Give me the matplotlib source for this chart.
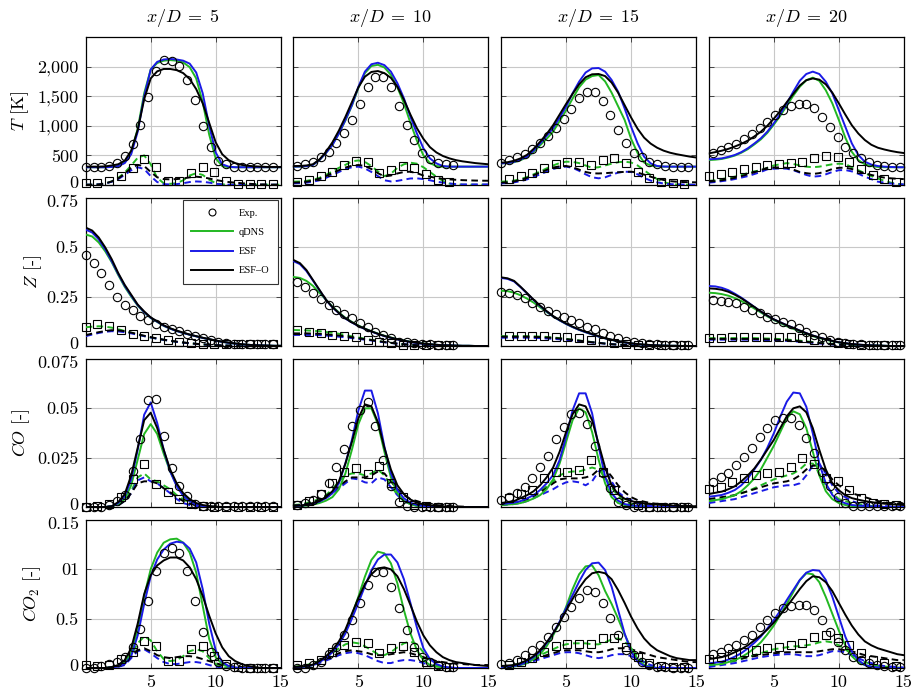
import matplotlib.pyplot as plt
from matplotlib.lines import Line2D
from matplotlib.transforms import ScaledTranslation

plt.rcParams['font.family'] = 'serif'
plt.rcParams['font.serif'] = ['cmr10']
plt.rcParams['mathtext.fontset'] = 'cm'
plt.rcParams['axes.unicode_minus'] = False
plt.rcParams['axes.formatter.use_mathtext'] = True

# radial positions r/D of the simulated profiles
r_sim = [0.0, 0.5, 1.0, 1.5, 2.0, 2.5, 3.0, 3.5, 4.0, 4.5,
         5.0, 5.5, 6.0, 6.5, 7.0, 7.5, 8.0, 8.5, 9.0, 9.5,
         10.0, 10.5, 11.0, 11.5, 12.0, 12.5, 13.0, 13.5, 14.0, 14.5, 15.0]

# radial positions of the measurements (mean: circles, rms: squares)
r_exp_5 = [0.0, 0.6, 1.2, 1.8, 2.4, 3.0, 3.6, 4.2, 4.8, 5.4, 6.0, 6.6, 7.2,
           7.8, 8.4, 9.0, 9.6, 10.2, 10.8, 11.4, 12.0, 12.6, 13.2, 13.8, 14.4]
r_exp_10 = [0.3, 0.9, 1.5, 2.1, 2.7, 3.3, 3.9, 4.5, 5.1, 5.7, 6.3, 6.9, 7.5,
            8.1, 8.7, 9.3, 9.9, 10.5, 11.1, 11.7, 12.3]
r_exp_15 = [0.0, 0.6, 1.2, 1.8, 2.4, 3.0, 3.6, 4.2, 4.8, 5.4, 6.0, 6.6, 7.2,
            7.8, 8.4, 9.0, 9.6, 10.2, 10.8, 11.4, 12.0, 12.6, 13.2, 13.8, 14.4]
r_exp_20 = [0.3, 0.9, 1.5, 2.1, 2.7, 3.3, 3.9, 4.5, 5.1, 5.7, 6.3, 6.9, 7.5,
            8.1, 8.7, 9.3, 9.9, 10.5, 11.1, 11.7, 12.3, 12.9, 13.5, 14.1, 14.7]
r_rms_5 = [0.0, 0.9, 1.8, 2.7, 3.6, 4.5, 5.4, 6.3, 7.2, 8.1, 9.0, 9.9, 10.8,
           11.7, 12.6, 13.5, 14.4]
r_rms_10 = [0.3, 1.2, 2.1, 3.0, 3.9, 4.8, 5.7, 6.6, 7.5, 8.4, 9.3, 10.2, 11.1, 12.0]
r_rms_15 = [0.6, 1.5, 2.4, 3.3, 4.2, 5.1, 6.0, 6.9, 7.8, 8.7, 9.6, 10.5, 11.4,
            12.3, 13.2, 14.1]
r_rms_20 = [0.0, 0.9, 1.8, 2.7, 3.6, 4.5, 5.4, 6.3, 7.2, 8.1, 9.0, 9.9, 10.8,
            11.7, 12.6, 13.5, 14.4]

# ---- temperature [K] ----
T_5_qdns = [300, 300, 300, 300, 305, 320, 380, 560, 950, 1550,
            1950, 2060, 2100, 2110, 2100, 2070, 1990, 1800, 1400, 850,
            450, 320, 300, 300, 300, 300, 300, 300, 300, 300, 300]
T_5_esf = [300, 300, 300, 300, 305, 320, 370, 520, 900, 1500,
           1950, 2080, 2120, 2130, 2120, 2100, 2050, 1900, 1550, 1000,
           550, 350, 310, 300, 300, 300, 300, 300, 300, 300, 300]
T_5_esfo = [310, 310, 310, 315, 330, 350, 410, 580, 930, 1450,
            1800, 1920, 1960, 1960, 1940, 1890, 1790, 1620, 1380, 1050,
            720, 520, 420, 370, 340, 325, 315, 310, 305, 305, 305]
T_5_qdns_rms = [5, 5, 10, 25, 60, 120, 210, 330, 460, 500,
                350, 120, 30, 20, 30, 80, 160, 200, 170, 90,
                30, 10, 5, 5, 5, 5, 5, 5, 5, 5, 5]
T_5_esf_rms = [5, 5, 10, 25, 55, 100, 170, 250, 300, 270,
               150, 50, 15, 10, 15, 30, 50, 60, 55, 40,
               20, 10, 5, 5, 5, 5, 5, 5, 5, 5, 5]
T_5_esfo_rms = [5, 5, 10, 25, 60, 110, 190, 290, 340, 320,
                220, 130, 100, 95, 100, 110, 130, 140, 130, 110,
                85, 65, 50, 40, 30, 22, 15, 10, 8, 5, 5]
T_5_exp = [310, 310, 310, 327, 378, 491, 694, 1016, 1484, 1919, 2105, 2088, 2003,
           1777, 1439, 999, 649, 406, 350, 310, 310, 310, 310, 310, 310]
T_5_exp_rms = [28, 40, 68, 158, 282, 435, 310, 68, 68, 209, 310, 226, 68, 17, 17, 10, 10]

T_10_qdns = [310, 312, 318, 340, 420, 540, 680, 870, 1090, 1340,
             1640, 1890, 2010, 2030, 1985, 1860, 1650, 1380, 1050, 750,
             500, 370, 320, 310, 310, 310, 310, 310, 310, 310, 310]
T_10_esf = [310, 312, 318, 340, 420, 540, 675, 870, 1100, 1350,
            1660, 1915, 2040, 2065, 2025, 1915, 1720, 1465, 1155, 870,
            620, 450, 365, 320, 310, 310, 310, 310, 310, 310, 310]
T_10_esfo = [320, 322, 330, 350, 430, 560, 720, 920, 1150, 1400,
             1650, 1830, 1910, 1925, 1890, 1810, 1660, 1440, 1190, 960,
             780, 640, 550, 490, 450, 420, 400, 385, 370, 360, 350]
T_10_qdns_rms = [56, 60, 70, 90, 120, 170, 230, 290, 340, 400,
                 415, 390, 320, 230, 150, 190, 290, 350, 377, 360,
                 300, 220, 140, 70, 25, 10, 5, 5, 5, 5, 5]
T_10_esf_rms = [28, 32, 40, 55, 80, 120, 170, 220, 270, 300,
                310, 280, 220, 150, 80, 60, 70, 90, 110, 112,
                100, 80, 56, 40, 25, 15, 10, 10, 10, 10, 10]
T_10_esfo_rms = [40, 45, 55, 75, 105, 150, 200, 250, 295, 325,
                 338, 320, 270, 200, 145, 160, 195, 220, 225, 200,
                 160, 140, 120, 105, 95, 88, 82, 78, 75, 73, 72]
T_10_exp = [327, 349, 394, 467, 563, 704, 884, 1098, 1368, 1650, 1820, 1820, 1650,
            1334, 1020, 760, 545, 440, 380, 350, 340]
T_10_exp_rms = [56, 84, 158, 225, 338, 405, 394, 208, 253, 327, 293, 186, 84, 45]

T_15_qdns = [366, 370, 385, 420, 470, 560, 670, 780, 900, 1080,
             1260, 1460, 1650, 1780, 1840, 1858, 1750, 1560, 1330, 1100,
             780, 540, 380, 330, 315, 310, 310, 310, 310, 310, 310]
T_15_esf = [366, 370, 390, 430, 480, 580, 700, 830, 957, 1140,
            1323, 1550, 1745, 1900, 1970, 1976, 1915, 1775, 1577, 1295,
            985, 704, 479, 366, 321, 312, 310, 310, 310, 310, 310]
T_15_esfo = [377, 385, 410, 450, 510, 610, 730, 860, 1010, 1190,
             1370, 1540, 1700, 1820, 1870, 1875, 1840, 1730, 1560, 1350,
             1140, 950, 800, 700, 630, 580, 545, 520, 500, 480, 465]
T_15_qdns_rms = [56, 62, 75, 100, 135, 180, 230, 280, 330, 370,
                 394, 390, 370, 330, 290, 300, 330, 360, 385, 394,
                 380, 330, 250, 170, 100, 50, 20, 8, 5, 5, 5]
T_15_esf_rms = [28, 32, 45, 65, 95, 135, 180, 225, 270, 300,
                310, 290, 240, 180, 130, 113, 130, 170, 210, 225,
                220, 180, 120, 75, 45, 25, 15, 10, 8, 5, 5]
T_15_esfo_rms = [40, 45, 60, 85, 120, 165, 210, 255, 295, 315,
                 321, 300, 260, 220, 197, 195, 200, 208, 215, 222,
                 225, 210, 175, 140, 110, 85, 65, 56, 50, 47, 45]
T_15_exp = [377, 422, 467, 518, 602, 704, 828, 957, 1109, 1284, 1464, 1577, 1577,
            1425, 1182, 929, 704, 546, 467, 394, 349, 321, 310, 310, 310]
T_15_exp_rms = [101, 158, 208, 287, 349, 394, 383, 338, 417, 450, 366, 225, 124, 56, 28, 17]

T_20_qdns = [422, 428, 440, 465, 497, 545, 605, 685, 770, 880,
             1020, 1170, 1340, 1510, 1660, 1770, 1813, 1760, 1600, 1380,
             1100, 800, 560, 420, 350, 320, 305, 300, 300, 300, 300]
T_20_esf = [434, 440, 450, 475, 507, 555, 620, 700, 788, 900,
            1042, 1200, 1380, 1577, 1762, 1875, 1915, 1875, 1745, 1548,
            1267, 985, 704, 507, 394, 345, 320, 310, 305, 300, 300]
T_20_esfo = [535, 555, 580, 610, 650, 695, 750, 820, 900, 1000,
             1120, 1250, 1400, 1540, 1680, 1770, 1800, 1780, 1700, 1560,
             1380, 1190, 1010, 870, 760, 680, 630, 600, 575, 555, 540]
T_20_qdns_rms = [68, 80, 100, 120, 141, 170, 200, 230, 250, 290,
                 330, 350, 370, 355, 330, 310, 300, 310, 330, 350,
                 360, 355, 300, 250, 200, 150, 110, 70, 40, 20, 5]
T_20_esf_rms = [40, 50, 65, 80, 100, 125, 150, 185, 220, 265,
                275, 281, 275, 250, 210, 170, 141, 150, 180, 220,
                250, 253, 230, 190, 141, 100, 56, 40, 25, 17, 10]
T_20_esfo_rms = [56, 65, 80, 100, 120, 150, 180, 215, 250, 290,
                 295, 298, 290, 260, 220, 200, 186, 200, 230, 270,
                 290, 293, 270, 230, 197, 170, 145, 125, 113, 105, 100]
T_20_exp = [546, 591, 636, 693, 771, 861, 957, 1070, 1182, 1267, 1334, 1368, 1368,
            1295, 1143, 974, 805, 648, 535, 450, 383, 343, 321, 310, 310]
T_20_exp_rms = [152, 186, 225, 265, 310, 338, 349, 366, 394, 450, 490, 467, 394,
                265, 169, 101, 56]

# ---- mixture fraction [-] ----
Z_5_qdns = [0.565, 0.555, 0.525, 0.48, 0.425, 0.36, 0.30, 0.25, 0.205, 0.17,
            0.142, 0.122, 0.102, 0.088, 0.076, 0.066, 0.057, 0.049, 0.041, 0.034,
            0.027, 0.021, 0.016, 0.012, 0.008, 0.006, 0.004, 0.003, 0.002, 0.001, 0.001]
Z_5_esf = [0.59, 0.575, 0.54, 0.49, 0.43, 0.365, 0.305, 0.255, 0.207, 0.172,
           0.143, 0.123, 0.103, 0.088, 0.076, 0.066, 0.057, 0.049, 0.041, 0.034,
           0.027, 0.021, 0.016, 0.012, 0.008, 0.006, 0.004, 0.003, 0.002, 0.001, 0.001]
Z_5_esfo = [0.60, 0.585, 0.55, 0.50, 0.44, 0.37, 0.31, 0.26, 0.21, 0.175,
            0.145, 0.125, 0.105, 0.09, 0.078, 0.068, 0.058, 0.05, 0.042, 0.035,
            0.028, 0.022, 0.017, 0.013, 0.009, 0.006, 0.004, 0.003, 0.002, 0.001, 0.001]
Z_5_qdns_rms = [0.095, 0.098, 0.10, 0.098, 0.093, 0.085, 0.076, 0.067, 0.058, 0.05,
                0.043, 0.037, 0.031, 0.026, 0.021, 0.017, 0.014, 0.011, 0.008, 0.006,
                0.004, 0.003, 0.002, 0.001, 0.001, 0, 0, 0, 0, 0, 0]
Z_5_esf_rms = [0.05, 0.058, 0.066, 0.072, 0.075, 0.074, 0.07, 0.064, 0.057, 0.05,
               0.043, 0.037, 0.031, 0.026, 0.021, 0.017, 0.014, 0.011, 0.008, 0.006,
               0.004, 0.003, 0.002, 0.001, 0.001, 0, 0, 0, 0, 0, 0]
Z_5_esfo_rms = [0.055, 0.063, 0.07, 0.076, 0.08, 0.079, 0.075, 0.068, 0.06, 0.052,
                0.045, 0.038, 0.032, 0.027, 0.022, 0.018, 0.014, 0.011, 0.008, 0.006,
                0.004, 0.003, 0.002, 0.001, 0.001, 0, 0, 0, 0, 0, 0]
Z_5_exp = [0.46, 0.42, 0.37, 0.31, 0.25, 0.21, 0.18, 0.15, 0.13, 0.11, 0.095, 0.085,
           0.075, 0.06, 0.05, 0.04, 0.03, 0.02, 0.015, 0.01, 0.01, 0.01, 0.01, 0.01, 0.01]
Z_5_exp_rms = [0.096, 0.11, 0.10, 0.08, 0.06, 0.05, 0.04, 0.03, 0.02, 0.015, 0.01,
               0.01, 0.01, 0.01, 0.01, 0.01, 0.01]

Z_10_qdns = [0.35, 0.345, 0.33, 0.305, 0.27, 0.235, 0.2, 0.17, 0.143, 0.122,
             0.104, 0.088, 0.075, 0.063, 0.052, 0.043, 0.035, 0.028, 0.022, 0.017,
             0.012, 0.009, 0.006, 0.004, 0.003, 0.002, 0.001, 0.001, 0, 0, 0]
Z_10_esf = [0.43, 0.415, 0.38, 0.332, 0.283, 0.234, 0.196, 0.166, 0.139, 0.119,
            0.101, 0.086, 0.073, 0.061, 0.05, 0.041, 0.033, 0.026, 0.02, 0.015,
            0.011, 0.008, 0.006, 0.004, 0.003, 0.002, 0.001, 0.001, 0, 0, 0]
Z_10_esfo = [0.436, 0.42, 0.385, 0.335, 0.285, 0.235, 0.197, 0.167, 0.14, 0.12,
             0.102, 0.087, 0.074, 0.062, 0.051, 0.042, 0.034, 0.027, 0.021, 0.016,
             0.012, 0.009, 0.006, 0.004, 0.003, 0.002, 0.001, 0.001, 0, 0, 0]
Z_10_qdns_rms = [0.081, 0.08, 0.079, 0.077, 0.075, 0.071, 0.067, 0.062, 0.056, 0.049,
                 0.043, 0.037, 0.031, 0.025, 0.02, 0.016, 0.012, 0.009, 0.006, 0.004,
                 0.003, 0.002, 0.001, 0.001, 0, 0, 0, 0, 0, 0, 0]
Z_10_esf_rms = [0.056, 0.056, 0.056, 0.056, 0.055, 0.053, 0.05, 0.047, 0.044, 0.04,
                0.036, 0.032, 0.028, 0.023, 0.019, 0.015, 0.012, 0.009, 0.006, 0.004,
                0.003, 0.002, 0.001, 0.001, 0, 0, 0, 0, 0, 0, 0]
Z_10_esfo_rms = [0.064, 0.064, 0.064, 0.063, 0.062, 0.059, 0.056, 0.053, 0.049, 0.044,
                 0.039, 0.035, 0.03, 0.025, 0.02, 0.016, 0.012, 0.009, 0.006, 0.004,
                 0.003, 0.002, 0.001, 0.001, 0, 0, 0, 0, 0, 0, 0]
Z_10_exp = [0.326, 0.301, 0.267, 0.236, 0.208, 0.182, 0.162, 0.140, 0.115, 0.098,
            0.073, 0.056, 0.039, 0.022, 0.019, 0.014, 0.010, 0.008, 0.007, 0.007, 0.007]
Z_10_exp_rms = [0.081, 0.073, 0.064, 0.056, 0.051, 0.044, 0.030, 0.019, 0.014, 0.007,
                0.005, 0.003, 0.003, 0.003]

Z_15_qdns = [0.28, 0.278, 0.27, 0.257, 0.24, 0.22, 0.196, 0.172, 0.15, 0.13,
             0.112, 0.096, 0.082, 0.07, 0.059, 0.048, 0.039, 0.031, 0.024, 0.018,
             0.013, 0.009, 0.006, 0.004, 0.003, 0.002, 0.001, 0.001, 0, 0, 0]
Z_15_esf = [0.345, 0.34, 0.327, 0.298, 0.266, 0.233, 0.203, 0.175, 0.15, 0.13,
            0.112, 0.096, 0.082, 0.07, 0.059, 0.048, 0.039, 0.031, 0.024, 0.018,
            0.013, 0.009, 0.006, 0.004, 0.003, 0.002, 0.001, 0.001, 0, 0, 0]
Z_15_esfo = [0.348, 0.343, 0.33, 0.30, 0.268, 0.235, 0.205, 0.177, 0.152, 0.132,
             0.114, 0.098, 0.084, 0.072, 0.061, 0.05, 0.04, 0.032, 0.025, 0.019,
             0.014, 0.01, 0.007, 0.005, 0.003, 0.002, 0.001, 0.001, 0, 0, 0]
Z_15_qdns_rms = [0.05, 0.05, 0.05, 0.05, 0.05, 0.049, 0.048, 0.046, 0.043, 0.04,
                 0.036, 0.032, 0.028, 0.024, 0.02, 0.016, 0.013, 0.01, 0.007, 0.005,
                 0.003, 0.002, 0.001, 0.001, 0, 0, 0, 0, 0, 0, 0]
Z_15_esf_rms = [0.042, 0.042, 0.042, 0.042, 0.042, 0.041, 0.04, 0.038, 0.036, 0.034,
                0.031, 0.028, 0.025, 0.021, 0.018, 0.015, 0.012, 0.009, 0.007, 0.005,
                0.003, 0.002, 0.001, 0.001, 0, 0, 0, 0, 0, 0, 0]
Z_15_esfo_rms = [0.047, 0.047, 0.047, 0.047, 0.047, 0.046, 0.045, 0.043, 0.041, 0.038,
                 0.035, 0.031, 0.027, 0.023, 0.019, 0.016, 0.012, 0.009, 0.007, 0.005,
                 0.003, 0.002, 0.001, 0.001, 0, 0, 0, 0, 0, 0, 0]
Z_15_exp = [0.272, 0.267, 0.258, 0.242, 0.220, 0.199, 0.179, 0.160, 0.145, 0.132,
            0.115, 0.098, 0.084, 0.064, 0.051, 0.039, 0.027, 0.019, 0.014, 0.010,
            0.008, 0.007, 0.005, 0.005, 0.003]
Z_15_exp_rms = [0.051, 0.051, 0.051, 0.051, 0.047, 0.044, 0.039, 0.030, 0.022, 0.014,
                0.008, 0.005, 0.003, 0.003, 0.003, 0.003]

Z_20_qdns = [0.27, 0.268, 0.263, 0.255, 0.243, 0.228, 0.21, 0.19, 0.17, 0.15,
             0.132, 0.116, 0.1, 0.087, 0.074, 0.062, 0.05, 0.04, 0.032, 0.024,
             0.018, 0.013, 0.009, 0.006, 0.004, 0.003, 0.002, 0.001, 0, 0, 0]
Z_20_esf = [0.304, 0.302, 0.295, 0.283, 0.265, 0.245, 0.222, 0.198, 0.175, 0.154,
            0.135, 0.12, 0.105, 0.092, 0.078, 0.065, 0.053, 0.043, 0.034, 0.026,
            0.019, 0.014, 0.01, 0.007, 0.005, 0.003, 0.002, 0.001, 0, 0, 0]
Z_20_esfo = [0.292, 0.29, 0.285, 0.275, 0.26, 0.242, 0.22, 0.198, 0.175, 0.154,
             0.135, 0.12, 0.105, 0.092, 0.078, 0.065, 0.053, 0.043, 0.034, 0.026,
             0.019, 0.014, 0.01, 0.007, 0.005, 0.003, 0.002, 0.001, 0, 0, 0]
Z_20_qdns_rms = [0.04, 0.04, 0.04, 0.04, 0.04, 0.04, 0.04, 0.04, 0.039, 0.038,
                 0.037, 0.035, 0.033, 0.03, 0.027, 0.024, 0.02, 0.017, 0.014, 0.011,
                 0.008, 0.006, 0.004, 0.003, 0.002, 0.001, 0.001, 0, 0, 0, 0]
Z_20_esf_rms = [0.032, 0.032, 0.032, 0.032, 0.032, 0.032, 0.032, 0.032, 0.031, 0.03,
                0.029, 0.028, 0.026, 0.024, 0.021, 0.019, 0.016, 0.013, 0.011, 0.008,
                0.006, 0.005, 0.003, 0.002, 0.001, 0.001, 0, 0, 0, 0, 0]
Z_20_esfo_rms = [0.036, 0.036, 0.036, 0.036, 0.036, 0.036, 0.036, 0.036, 0.035, 0.034,
                 0.033, 0.031, 0.029, 0.027, 0.024, 0.021, 0.018, 0.015, 0.012, 0.009,
                 0.007, 0.005, 0.004, 0.002, 0.001, 0.001, 0, 0, 0, 0, 0]
Z_20_exp = [0.233, 0.230, 0.225, 0.216, 0.199, 0.182, 0.166, 0.149, 0.135, 0.123,
            0.110, 0.093, 0.073, 0.056, 0.044, 0.030, 0.022, 0.014, 0.010, 0.008,
            0.007, 0.007, 0.005, 0.005, 0.005]
Z_20_exp_rms = [0.039, 0.039, 0.044, 0.044, 0.044, 0.047, 0.047, 0.044, 0.039, 0.030,
                0.022, 0.014, 0.008, 0.005, 0.005, 0.005, 0.005]

# ---- CO mass fraction [-] ----
CO_5_qdns = [0, 0, 0, 0, 0.0003, 0.0015, 0.004, 0.011, 0.024, 0.037,
             0.042, 0.037, 0.027, 0.018, 0.011, 0.006, 0.003, 0.0015, 0.0005, 0.0002,
             0, 0, 0, 0, 0, 0, 0, 0, 0, 0, 0]
CO_5_esf = [0, 0, 0, 0, 0.0003, 0.002, 0.0054, 0.0139, 0.029, 0.0468,
            0.053, 0.0426, 0.029, 0.018, 0.0105, 0.0057, 0.0029, 0.0012, 0.0005, 0.0002,
            0, 0, 0, 0, 0, 0, 0, 0, 0, 0, 0]
CO_5_esfo = [0, 0, 0, 0, 0.0004, 0.0025, 0.0065, 0.016, 0.03, 0.044,
             0.0478, 0.04, 0.029, 0.019, 0.012, 0.007, 0.004, 0.002, 0.001, 0.0005,
             0.0002, 0, 0, 0, 0, 0, 0, 0, 0, 0, 0]
CO_5_qdns_rms = [0, 0, 0, 0, 0.0003, 0.001, 0.003, 0.008, 0.015, 0.017,
                 0.014, 0.013, 0.011, 0.009, 0.006, 0.004, 0.002, 0.001, 0.0005, 0,
                 0, 0, 0, 0, 0, 0, 0, 0, 0, 0, 0]
CO_5_esf_rms = [0, 0, 0, 0, 0.0003, 0.001, 0.003, 0.007, 0.0135, 0.015,
                0.013, 0.012, 0.0095, 0.007, 0.004, 0.002, 0.001, 0.0005, 0, 0,
                0, 0, 0, 0, 0, 0, 0, 0, 0, 0, 0]
CO_5_esfo_rms = [0, 0, 0, 0, 0.0003, 0.001, 0.003, 0.007, 0.012, 0.013,
                 0.013, 0.012, 0.0095, 0.0075, 0.005, 0.003, 0.0017, 0.0008, 0.0003, 0,
                 0, 0, 0, 0, 0, 0, 0, 0, 0, 0, 0]
CO_5_exp = [0, 0, 0, 0.0012, 0.003, 0.0062, 0.018, 0.0347, 0.054, 0.0549, 0.0358,
            0.0198, 0.0108, 0.0054, 0.0017, 0.0007, 0.0003, 0.0003, 0.0003, 0.0003,
            0.0003, 0.0003, 0.0003, 0.0003, 0.0003]
CO_5_exp_rms = [0, 0.0003, 0.0017, 0.005, 0.014, 0.022, 0.0118, 0.0074, 0.004, 0.0017,
                0.0003, 0, 0, 0, 0, 0, 0]

CO_10_qdns = [0.0003, 0.0004, 0.0007, 0.0012, 0.002, 0.0032, 0.005, 0.009, 0.017, 0.029,
              0.042, 0.05, 0.05, 0.042, 0.028, 0.015, 0.007, 0.003, 0.0015, 0.0005,
              0.0002, 0, 0, 0, 0, 0, 0, 0, 0, 0, 0]
CO_10_esf = [0.0005, 0.0006, 0.001, 0.0017, 0.0027, 0.0045, 0.0069, 0.012, 0.0221, 0.034,
             0.049, 0.059, 0.059, 0.0475, 0.0306, 0.0171, 0.0086, 0.0044, 0.0022, 0.001,
             0.0005, 0.0002, 0, 0, 0, 0, 0, 0, 0, 0, 0]
CO_10_esfo = [0.0005, 0.0007, 0.0012, 0.002, 0.003, 0.005, 0.008, 0.013, 0.022, 0.033,
              0.045, 0.052, 0.051, 0.043, 0.03, 0.019, 0.011, 0.0065, 0.0038, 0.0022,
              0.0013, 0.0008, 0.0005, 0.0003, 0.0002, 0.0001, 0, 0, 0, 0, 0]
CO_10_qdns_rms = [0.001, 0.0013, 0.002, 0.003, 0.004, 0.006, 0.009, 0.013, 0.016, 0.017,
                  0.017, 0.016, 0.017, 0.019, 0.016, 0.011, 0.006, 0.003, 0.0015, 0.0007,
                  0.0003, 0, 0, 0, 0, 0, 0, 0, 0, 0, 0]
CO_10_esf_rms = [0.0005, 0.0008, 0.0012, 0.002, 0.003, 0.0045, 0.007, 0.0095, 0.012, 0.0145,
                 0.014, 0.0125, 0.012, 0.015, 0.014, 0.01, 0.006, 0.003, 0.0015, 0.0007,
                 0.0003, 0, 0, 0, 0, 0, 0, 0, 0, 0, 0]
CO_10_esfo_rms = [0.0008, 0.001, 0.0015, 0.0025, 0.0035, 0.0055, 0.008, 0.0105, 0.013, 0.015,
                  0.015, 0.015, 0.016, 0.018, 0.017, 0.013, 0.009, 0.006, 0.004, 0.003,
                  0.002, 0.0015, 0.001, 0.0007, 0.0005, 0.0003, 0.0002, 0, 0, 0, 0]
CO_10_exp = [0.001, 0.0019, 0.0035, 0.0066, 0.0123, 0.0201, 0.0296, 0.0411, 0.0492,
             0.0534, 0.0411, 0.0238, 0.0105, 0.0027, 0.0005, 0.0002, 0.0002, 0.0002,
             0.0002, 0.0002, 0.0002]
CO_10_exp_rms = [0.001, 0.0032, 0.0066, 0.012, 0.0179, 0.0196, 0.0167, 0.0208, 0.012,
                 0.0052, 0.001, 0.0005, 0.0002, 0.0002]

CO_15_qdns = [0.001, 0.0012, 0.0015, 0.002, 0.003, 0.0043, 0.006, 0.009, 0.014, 0.022,
              0.033, 0.044, 0.05, 0.048, 0.038, 0.024, 0.012, 0.005, 0.002, 0.001,
              0.0005, 0.0002, 0, 0, 0, 0, 0, 0, 0, 0, 0]
CO_15_esf = [0.0015, 0.0018, 0.0022, 0.003, 0.0044, 0.006, 0.0086, 0.012, 0.0162, 0.0238,
             0.0356, 0.049, 0.0576, 0.0576, 0.0475, 0.0306, 0.0154, 0.0069, 0.0032, 0.0015,
             0.0008, 0.0005, 0.0003, 0.0002, 0, 0, 0, 0, 0, 0, 0]
CO_15_esfo = [0.002, 0.0025, 0.003, 0.0045, 0.006, 0.008, 0.011, 0.015, 0.02, 0.028,
              0.038, 0.047, 0.052, 0.051, 0.044, 0.032, 0.02, 0.011, 0.0065, 0.0042,
              0.003, 0.0023, 0.0018, 0.0015, 0.0012, 0.001, 0.0008, 0.0006, 0.0005, 0.0004, 0.0004]
CO_15_qdns_rms = [0.001, 0.0015, 0.002, 0.003, 0.004, 0.006, 0.008, 0.0105, 0.013, 0.016,
                  0.0175, 0.018, 0.018, 0.019, 0.02, 0.019, 0.015, 0.01, 0.0055, 0.003,
                  0.0015, 0.001, 0.0005, 0.0002, 0, 0, 0, 0, 0, 0, 0]
CO_15_esf_rms = [0.001, 0.0012, 0.0015, 0.002, 0.003, 0.0045, 0.006, 0.0075, 0.009, 0.011,
                 0.0125, 0.013, 0.0125, 0.011, 0.013, 0.018, 0.019, 0.013, 0.0075, 0.005,
                 0.0035, 0.002, 0.001, 0.0005, 0.0002, 0, 0, 0, 0, 0, 0]
CO_15_esfo_rms = [0.0012, 0.0015, 0.002, 0.003, 0.004, 0.0055, 0.0075, 0.0095, 0.012, 0.014,
                  0.0145, 0.0145, 0.0145, 0.015, 0.016, 0.019, 0.0195, 0.0155, 0.011, 0.0075,
                  0.005, 0.0035, 0.0027, 0.002, 0.0016, 0.0013, 0.001, 0.0008, 0.0006, 0.0005, 0.0004]
CO_15_exp = [0.0035, 0.0052, 0.0069, 0.0103, 0.0145, 0.0201, 0.0258, 0.0343, 0.0404,
             0.0471, 0.0475, 0.0421, 0.0309, 0.0174, 0.0095, 0.0027, 0.001, 0.0002,
             0.0002, 0.0002, 0.0002, 0.0002, 0.0002, 0.0002, 0.0002]
CO_15_exp_rms = [0.0044, 0.0066, 0.0086, 0.0145, 0.0176, 0.0179, 0.0188, 0.0238, 0.0179,
                 0.0086, 0.0027, 0.001, 0.0002, 0.0002, 0.0002, 0.0002]

CO_20_qdns = [0.003, 0.0035, 0.004, 0.005, 0.006, 0.008, 0.011, 0.0145, 0.019, 0.025,
              0.031, 0.038, 0.045, 0.0485, 0.047, 0.04, 0.028, 0.016, 0.008, 0.004,
              0.002, 0.001, 0.0005, 0.0003, 0.0002, 0, 0, 0, 0, 0, 0]
CO_20_esf = [0.0052, 0.0056, 0.0061, 0.0072, 0.0086, 0.011, 0.0145, 0.019, 0.0238, 0.03,
             0.0373, 0.0458, 0.0534, 0.058, 0.0576, 0.0508, 0.0373, 0.0221, 0.012, 0.0061,
             0.0032, 0.0019, 0.001, 0.0007, 0.0005, 0.0003, 0.0002, 0, 0, 0, 0]
CO_20_esfo = [0.0066, 0.0072, 0.0078, 0.009, 0.0105, 0.013, 0.016, 0.0195, 0.024, 0.029,
              0.034, 0.04, 0.046, 0.05, 0.051, 0.048, 0.04, 0.029, 0.019, 0.012,
              0.0085, 0.006, 0.0045, 0.0037, 0.003, 0.0025, 0.002, 0.0017, 0.0014, 0.0012, 0.001]
CO_20_qdns_rms = [0.003, 0.0035, 0.004, 0.005, 0.006, 0.007, 0.008, 0.0095, 0.011, 0.0125,
                  0.014, 0.015, 0.016, 0.017, 0.019, 0.022, 0.022, 0.017, 0.011, 0.007,
                  0.004, 0.003, 0.002, 0.0015, 0.001, 0.0005, 0.0002, 0, 0, 0, 0]
CO_20_esf_rms = [0.002, 0.0025, 0.003, 0.0035, 0.004, 0.005, 0.006, 0.007, 0.008, 0.009,
                 0.01, 0.0105, 0.011, 0.011, 0.012, 0.016, 0.021, 0.022, 0.017, 0.011,
                 0.007, 0.005, 0.003, 0.002, 0.0015, 0.001, 0.0007, 0.0005, 0.0003, 0.0002, 0.0001]
CO_20_esfo_rms = [0.004, 0.0045, 0.005, 0.0055, 0.006, 0.007, 0.008, 0.009, 0.01, 0.011,
                  0.012, 0.0125, 0.013, 0.014, 0.016, 0.019, 0.021, 0.021, 0.018, 0.014,
                  0.011, 0.009, 0.007, 0.006, 0.005, 0.004, 0.003, 0.0025, 0.002, 0.0017, 0.0015]
CO_20_exp = [0.0128, 0.0154, 0.0171, 0.0213, 0.0252, 0.0297, 0.0353, 0.0399, 0.0441,
             0.0449, 0.0449, 0.0416, 0.0348, 0.0272, 0.0179, 0.0106, 0.0052, 0.0022,
             0.0005, 0.0003, 0.0003, 0.0003, 0.0003, 0.0003, 0.0003]
CO_20_exp_rms = [0.009, 0.0103, 0.0128, 0.0145, 0.0162, 0.0171, 0.0179, 0.0204, 0.0247,
                 0.022, 0.0145, 0.013, 0.0086, 0.0044, 0.0022, 0.0015, 0.001]

# ---- CO2 mass fraction [-] ----
CO2_5_qdns = [0, 0, 0, 0, 0.0007, 0.0024, 0.0057, 0.0158, 0.0394, 0.0731,
              0.1001, 0.117, 0.127, 0.1304, 0.1311, 0.127, 0.117, 0.0967, 0.063, 0.0293,
              0.0108, 0.004, 0.0013, 0.0003, 0, 0, 0, 0, 0, 0, 0]
CO2_5_esf = [0, 0, 0, 0, 0.0005, 0.0015, 0.004, 0.012, 0.033, 0.065,
             0.093, 0.11, 0.12, 0.126, 0.128, 0.127, 0.121, 0.107, 0.08, 0.045,
             0.018, 0.006, 0.002, 0.0005, 0, 0, 0, 0, 0, 0, 0]
CO2_5_esfo = [0, 0, 0, 0, 0.001, 0.003, 0.008, 0.02, 0.045, 0.075,
              0.094, 0.104, 0.109, 0.112, 0.112, 0.109, 0.102, 0.09, 0.073, 0.053,
              0.035, 0.021, 0.012, 0.007, 0.004, 0.002, 0.001, 0, 0, 0, 0]
CO2_5_qdns_rms = [0, 0, 0, 0, 0.0005, 0.0015, 0.004, 0.013, 0.025, 0.032,
                  0.028, 0.017, 0.009, 0.007, 0.008, 0.012, 0.017, 0.019, 0.017, 0.01,
                  0.004, 0.001, 0, 0, 0, 0, 0, 0, 0, 0, 0]
CO2_5_esf_rms = [0, 0, 0, 0, 0.0005, 0.0012, 0.003, 0.01, 0.017, 0.019,
                 0.015, 0.01, 0.006, 0.004, 0.004, 0.005, 0.006, 0.006, 0.005, 0.003,
                 0.0015, 0.0005, 0, 0, 0, 0, 0, 0, 0, 0, 0]
CO2_5_esfo_rms = [0, 0, 0, 0, 0.0006, 0.0015, 0.004, 0.012, 0.018, 0.02,
                  0.017, 0.013, 0.011, 0.01, 0.011, 0.012, 0.012, 0.011, 0.009, 0.007,
                  0.005, 0.003, 0.002, 0.0015, 0.001, 0.0005, 0, 0, 0, 0, 0]
CO2_5_exp = [0, 0, 0.0024, 0.004, 0.0057, 0.0108, 0.0209, 0.0394, 0.0681, 0.0984, 0.117,
             0.122, 0.117, 0.0984, 0.0681, 0.0367, 0.0158, 0.0057, 0.0024, 0.0007,
             0, 0, 0, 0, 0]
CO2_5_exp_rms = [0.0034, 0.0024, 0.0034, 0.009, 0.0158, 0.0276, 0.0226, 0.0074, 0.0074,
                 0.0192, 0.0219, 0.0125, 0.004, 0.0007, 0, 0, 0]

CO2_10_qdns = [0.0007, 0.001, 0.0015, 0.003, 0.0064, 0.011, 0.0166, 0.025, 0.0368, 0.0537,
               0.0723, 0.0926, 0.1095, 0.1179, 0.1162, 0.1061, 0.0858, 0.0588, 0.0351, 0.0182,
               0.0081, 0.003, 0.0014, 0.0005, 0, 0, 0, 0, 0, 0, 0]
CO2_10_esf = [0.0007, 0.001, 0.0015, 0.003, 0.006, 0.01, 0.016, 0.024, 0.035, 0.05,
              0.066, 0.083, 0.099, 0.11, 0.115, 0.115, 0.107, 0.09, 0.066, 0.041,
              0.02, 0.009, 0.004, 0.0015, 0.0005, 0, 0, 0, 0, 0, 0]
CO2_10_esfo = [0.001, 0.0013, 0.002, 0.0035, 0.007, 0.012, 0.018, 0.027, 0.039, 0.055,
               0.071, 0.085, 0.095, 0.101, 0.102, 0.1, 0.093, 0.08, 0.064, 0.047,
               0.033, 0.023, 0.016, 0.011, 0.008, 0.006, 0.005, 0.004, 0.003, 0.0025, 0.002]
CO2_10_qdns_rms = [0.001, 0.002, 0.003, 0.005, 0.007, 0.011, 0.015, 0.02, 0.024, 0.026,
                   0.025, 0.022, 0.018, 0.014, 0.013, 0.016, 0.021, 0.025, 0.027, 0.024,
                   0.016, 0.008, 0.003, 0.001, 0, 0, 0, 0, 0, 0, 0]
CO2_10_esf_rms = [0.0005, 0.001, 0.002, 0.003, 0.005, 0.0075, 0.01, 0.013, 0.015, 0.016,
                  0.015, 0.013, 0.01, 0.007, 0.005, 0.005, 0.007, 0.008, 0.008, 0.007,
                  0.005, 0.003, 0.0015, 0.001, 0.0005, 0, 0, 0, 0, 0, 0]
CO2_10_esfo_rms = [0.001, 0.0015, 0.0025, 0.004, 0.006, 0.009, 0.012, 0.015, 0.017, 0.018,
                   0.017, 0.016, 0.014, 0.013, 0.013, 0.014, 0.015, 0.016, 0.015, 0.013,
                   0.011, 0.009, 0.007, 0.006, 0.005, 0.0045, 0.004, 0.0035, 0.003, 0.003, 0.003]
CO2_10_exp = [0, 0, 0.003, 0.0064, 0.0142, 0.0216, 0.0334, 0.0486, 0.0655, 0.0841, 0.0976,
              0.0976, 0.0824, 0.0605, 0.0385, 0.0216, 0.0115, 0.0064, 0.003, 0.0014, 0.0007]
CO2_10_exp_rms = [0.003, 0.0047, 0.0081, 0.0166, 0.0233, 0.026, 0.025, 0.0149, 0.0199,
                  0.0223, 0.0166, 0.0064, 0.002, 0.0007]

CO2_15_qdns = [0.0008, 0.001, 0.0015, 0.003, 0.005, 0.009, 0.014, 0.022, 0.033, 0.046,
               0.062, 0.08, 0.095, 0.103, 0.104, 0.094, 0.078, 0.065, 0.05, 0.034,
               0.02, 0.009, 0.003, 0.001, 0, 0, 0, 0, 0, 0, 0]
CO2_15_esf = [0.001, 0.0013, 0.002, 0.0035, 0.0064, 0.011, 0.0166, 0.025, 0.0351, 0.047,
              0.0605, 0.074, 0.0875, 0.0993, 0.1061, 0.1068, 0.0993, 0.0824, 0.0588, 0.0351,
              0.0166, 0.0064, 0.002, 0.0007, 0, 0, 0, 0, 0, 0, 0]
CO2_15_esfo = [0.002, 0.0025, 0.003, 0.005, 0.008, 0.012, 0.018, 0.026, 0.035, 0.046,
               0.058, 0.07, 0.081, 0.09, 0.096, 0.0975, 0.096, 0.09, 0.079, 0.066,
               0.052, 0.04, 0.03, 0.023, 0.018, 0.015, 0.012, 0.01, 0.009, 0.008, 0.008]
CO2_15_qdns_rms = [0.001, 0.002, 0.003, 0.005, 0.007, 0.01, 0.013, 0.016, 0.019, 0.022,
                   0.024, 0.025, 0.025, 0.025, 0.024, 0.024, 0.026, 0.029, 0.03, 0.027,
                   0.02, 0.012, 0.006, 0.002, 0.001, 0, 0, 0, 0, 0, 0]
CO2_15_esf_rms = [0.0005, 0.001, 0.002, 0.003, 0.005, 0.007, 0.009, 0.011, 0.013, 0.015,
                  0.016, 0.016, 0.015, 0.013, 0.011, 0.01, 0.011, 0.013, 0.014, 0.014,
                  0.012, 0.009, 0.006, 0.003, 0.0015, 0.001, 0.0005, 0, 0, 0, 0]
CO2_15_esfo_rms = [0.001, 0.0015, 0.0025, 0.004, 0.006, 0.0085, 0.011, 0.013, 0.015, 0.017,
                   0.018, 0.018, 0.018, 0.017, 0.016, 0.016, 0.017, 0.019, 0.02, 0.02,
                   0.019, 0.017, 0.015, 0.013, 0.011, 0.01, 0.009, 0.008, 0.007, 0.006, 0.006]
CO2_15_exp = [0.004, 0.0054, 0.0081, 0.0132, 0.0182, 0.0233, 0.0318, 0.0419, 0.052,
              0.0622, 0.0706, 0.0791, 0.0774, 0.0662, 0.0503, 0.0334, 0.0182, 0.0132,
              0.0064, 0.003, 0.0014, 0.0007, 0.0003, 0, 0]
CO2_15_exp_rms = [0.003, 0.0064, 0.0098, 0.0166, 0.0223, 0.024, 0.024, 0.0243, 0.0301,
                  0.0301, 0.0216, 0.0115, 0.0047, 0.002, 0.0014, 0.0007]

CO2_20_qdns = [0.003, 0.0035, 0.004, 0.006, 0.008, 0.011, 0.015, 0.02, 0.026, 0.034,
               0.043, 0.054, 0.065, 0.077, 0.089, 0.096, 0.095, 0.087, 0.072, 0.055,
               0.038, 0.023, 0.012, 0.006, 0.003, 0.0013, 0.0005, 0, 0, 0, 0]
CO2_20_esf = [0.0047, 0.0055, 0.0064, 0.0085, 0.0115, 0.015, 0.0199, 0.0255, 0.0318, 0.04,
              0.0486, 0.058, 0.0689, 0.0791, 0.0892, 0.0966, 0.0993, 0.0986, 0.0892, 0.0723,
              0.052, 0.0318, 0.0166, 0.0081, 0.003, 0.0014, 0.0005, 0, 0, 0, 0]
CO2_20_esfo = [0.009, 0.01, 0.011, 0.013, 0.016, 0.019, 0.023, 0.028, 0.033, 0.039,
               0.046, 0.054, 0.062, 0.071, 0.08, 0.088, 0.093, 0.092, 0.087, 0.078,
               0.066, 0.054, 0.043, 0.034, 0.027, 0.023, 0.02, 0.018, 0.016, 0.014, 0.013]
CO2_20_qdns_rms = [0.002, 0.003, 0.004, 0.0055, 0.007, 0.009, 0.011, 0.013, 0.015, 0.017,
                   0.019, 0.02, 0.021, 0.022, 0.022, 0.023, 0.024, 0.026, 0.027, 0.026,
                   0.023, 0.019, 0.014, 0.01, 0.006, 0.004, 0.002, 0.0015, 0.001, 0.0005, 0]
CO2_20_esf_rms = [0.001, 0.002, 0.003, 0.004, 0.005, 0.0065, 0.008, 0.0095, 0.011, 0.012,
                  0.013, 0.0135, 0.014, 0.014, 0.013, 0.012, 0.012, 0.013, 0.015, 0.017,
                  0.017, 0.016, 0.013, 0.01, 0.007, 0.005, 0.003, 0.002, 0.0015, 0.001, 0.0005]
CO2_20_esfo_rms = [0.004, 0.005, 0.006, 0.007, 0.008, 0.0095, 0.011, 0.012, 0.013, 0.014,
                   0.015, 0.0155, 0.016, 0.016, 0.016, 0.016, 0.016, 0.017, 0.018, 0.019,
                   0.019, 0.018, 0.017, 0.015, 0.013, 0.012, 0.011, 0.01, 0.009, 0.008, 0.008]
CO2_20_exp = [0.0142, 0.0166, 0.0199, 0.0233, 0.0284, 0.0334, 0.0412, 0.0486, 0.0554,
              0.0605, 0.0628, 0.0639, 0.0639, 0.0588, 0.0486, 0.0368, 0.0267, 0.0182,
              0.0115, 0.0081, 0.0054, 0.003, 0.002, 0.0014, 0.0007]
CO2_20_exp_rms = [0.0088, 0.0115, 0.0142, 0.0166, 0.0182, 0.0206, 0.0216, 0.0233, 0.0257,
                  0.0311, 0.0334, 0.0301, 0.0233, 0.0149, 0.0081, 0.0047, 0.002]

stations = [5, 10, 15, 20]
quantities = ['T', 'Z', 'CO', 'CO2']
ylabels = [r'$T$ [K]', r'$Z$ [-]', r'$CO$ [-]', r'$CO_2$ [-]']
ylabel_x = [-0.28, -0.214, -0.275, -0.22]
ylims = [2500, 0.75, 0.075, 0.15]
yticks = [[0, 500, 1000, 1500, 2000], [0, 0.25, 0.5, 0.75],
          [0, 0.025, 0.05, 0.075], [0, 0.05, 0.1, 0.15]]
ytick_labels = [['0', '500', '1,000', '1,500', '2,000'], ['0', '0.25', '0.5', '0.75'],
                ['0', '0.025', '0.05', '0.075'], ['0', '0.5', '01', '0.15']]

exp_positions = {5: (r_exp_5, r_rms_5), 10: (r_exp_10, r_rms_10),
                 15: (r_exp_15, r_rms_15), 20: (r_exp_20, r_rms_20)}

# (qDNS, ESF, ESF-O, qDNS rms, ESF rms, ESF-O rms, exp mean, exp rms) per panel
g = globals()
profiles = {}
for q in quantities:
    for s in stations:
        key = '%s_%d_' % (q, s)
        profiles[(q, s)] = [g[key + n] for n in
                            ['qdns', 'esf', 'esfo', 'qdns_rms', 'esf_rms', 'esfo_rms',
                             'exp', 'exp_rms']]

c_qdns = '#22b822'
c_esf = '#1a1ae6'
c_esfo = 'black'
dash = (0, (3.4, 2.2))
lw = 1.4

fig = plt.figure(figsize=(9.17, 6.94), dpi=100)
W, H = 917.0, 694.0
ax_w, ax_h = 195 / W, 148 / H
for i, q in enumerate(quantities):
    for j, s in enumerate(stations):
        left = (85.7 + j * 207.7) / W
        bottom = 1 - (37 + i * 161 + 148) / H
        ax = fig.add_axes([left, bottom, ax_w, ax_h])
        qd, es, eo, qd_r, es_r, eo_r, ex, ex_r = profiles[(q, s)]
        r_m, r_r = exp_positions[s]

        ax.plot(r_sim, qd_r, color=c_qdns, lw=lw, ls=dash, zorder=3)
        ax.plot(r_sim, es_r, color=c_esf, lw=lw, ls=dash, zorder=3)
        ax.plot(r_sim, eo_r, color=c_esfo, lw=lw, ls=dash, zorder=3)
        ax.plot(r_sim, qd, color=c_qdns, lw=lw, zorder=4)
        ax.plot(r_sim, es, color=c_esf, lw=lw, zorder=4)
        ax.plot(r_sim, eo, color=c_esfo, lw=lw, zorder=4)
        ax.plot(r_r, ex_r, ls='none', marker='s', ms=5.2, mfc='none', mec='black',
                mew=0.8, zorder=5, clip_on=False)
        ax.plot(r_m, ex, ls='none', marker='o', ms=6, mfc='none', mec='black',
                mew=0.8, zorder=5, clip_on=False)

        ax.set_xlim(0, 15)
        ax.set_ylim(0, ylims[i])
        ax.set_xticks([5, 10, 15])
        ax.set_xticklabels(['5', '10', '15'])
        ax.set_yticks(yticks[i])
        ax.set_yticklabels(ytick_labels[i])
        ax.grid(True, color='#c8c8c8', lw=0.8)
        ax.set_axisbelow(True)
        ax.tick_params(direction='in', top=True, right=True, length=3.5, width=0.7,
                       color='#444444', labelsize=13, pad=5,
                       labelleft=(j == 0), labelbottom=(i == 3))
        for sp in ax.spines.values():
            sp.set_linewidth(0.9)

        if i == 0:
            ax.set_title(r'$x/D\;=\;%d$' % s, fontsize=13, pad=11)
        if j == 0:
            ax.set_ylabel(ylabels[i], fontsize=13)
            ax.yaxis.set_label_coords(ylabel_x[i], 0.5)
            # nudge the end labels apart so neighbouring rows do not collide
            ticks = ax.yaxis.get_major_ticks()
            up = ScaledTranslation(0, 3 / 100, fig.dpi_scale_trans)
            down = ScaledTranslation(0, -3 / 100, fig.dpi_scale_trans)
            ticks[0].label1.set_transform(ticks[0].label1.get_transform() + up)
            if i > 0:
                ticks[-1].label1.set_transform(ticks[-1].label1.get_transform() + down)

        if i == 1 and j == 0:
            handles = [Line2D([], [], ls='none', marker='o', ms=5, mfc='none',
                              mec='black', mew=0.8),
                       Line2D([], [], color=c_qdns, lw=lw),
                       Line2D([], [], color=c_esf, lw=lw),
                       Line2D([], [], color=c_esfo, lw=lw)]
            leg = ax.legend(handles, ['Exp.', 'qDNS', 'ESF', 'ESF\u2013O'],
                            loc='upper right', bbox_to_anchor=(0.985, 0.985),
                            prop={'family': 'Liberation Serif', 'size': 7.5},
                            fancybox=False, framealpha=1, edgecolor='#333333',
                            handlelength=4, labelspacing=0.95, handletextpad=0.6,
                            borderpad=0.8, borderaxespad=0)
            leg.get_frame().set_linewidth(0.8)
            leg.set_zorder(10)

fig.savefig('out.png', dpi=100)
